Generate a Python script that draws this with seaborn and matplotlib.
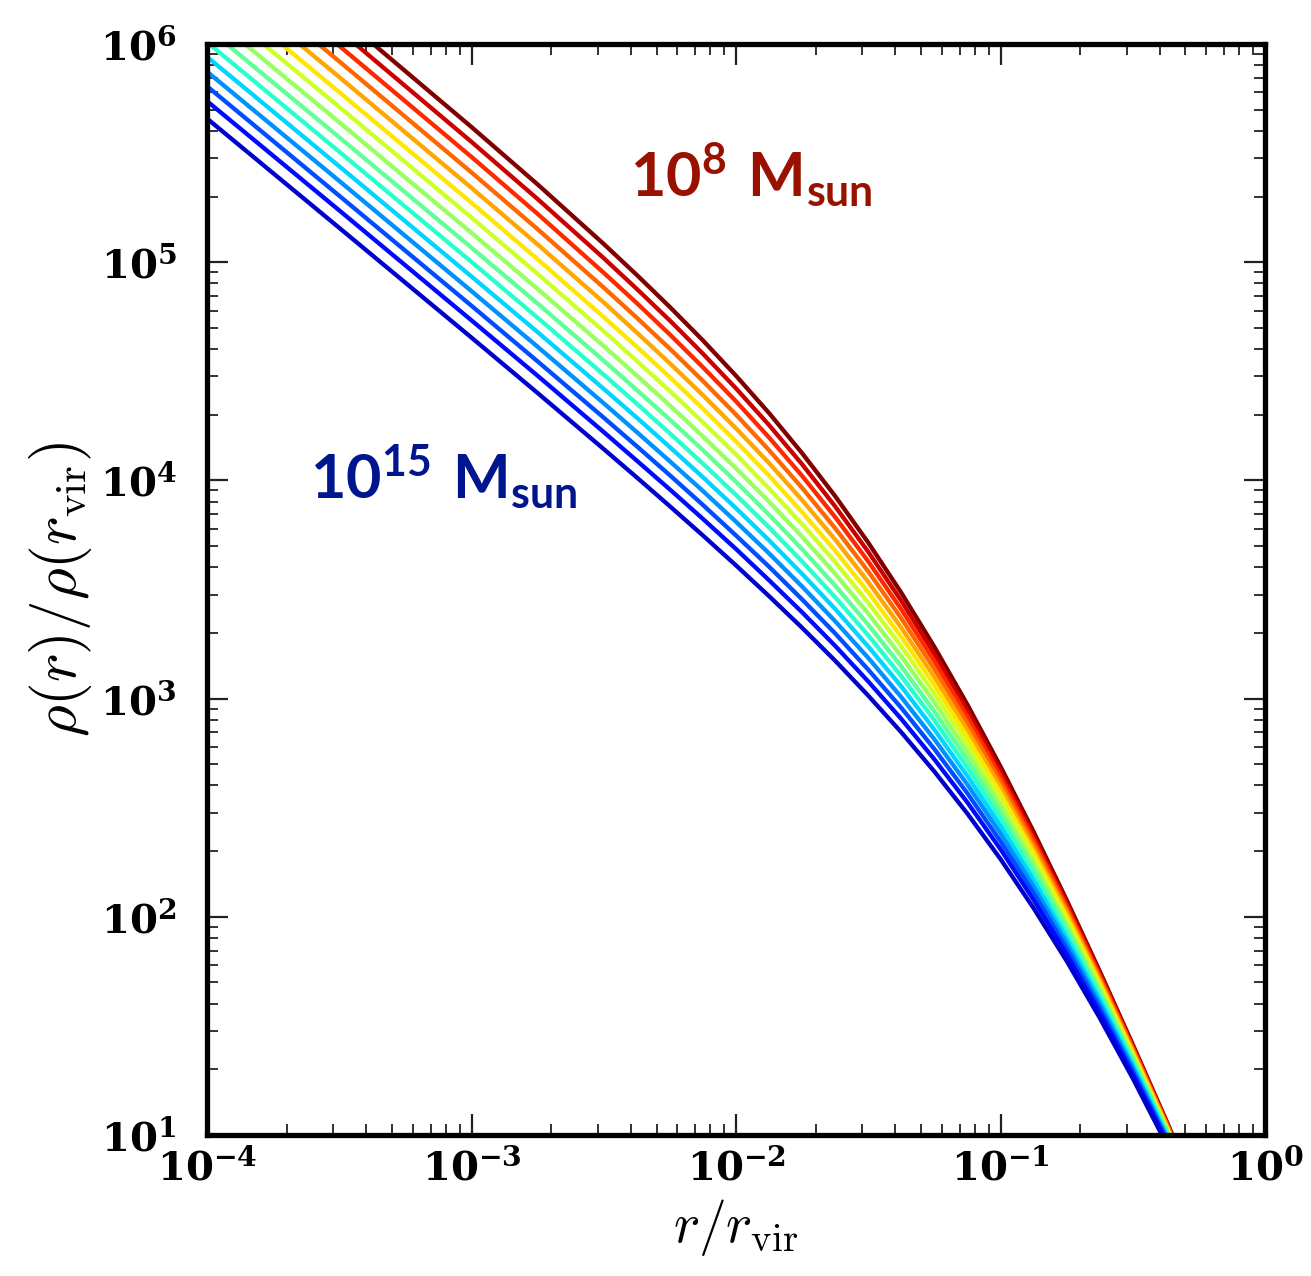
import numpy as np
import pandas as pd
import seaborn as sns
import matplotlib.pyplot as plt
from matplotlib.ticker import LogLocator, NullFormatter

# halo masses (log10 Msun), one curve each
log_mass = [8.0, 8.5, 9.0, 9.5, 10.0, 10.5, 11.0, 11.5, 12.0, 12.5, 13.0, 13.5, 14.0, 14.5, 15.0]

# sample radii, log10(r/r_vir)
log_r = [-4.0, -3.5, -3.0, -2.75, -2.5, -2.375, -2.25, -2.125, -2.0, -1.875, -1.75, -1.625,
         -1.5, -1.375, -1.25, -1.125, -1.0, -0.875, -0.75, -0.625, -0.5, -0.375, -0.25]

# log10 rho(r)/rho(r_vir), one row per mass
log_rho = [
    [6.634, 6.131, 5.619, 5.356, 5.083, 4.941, 4.794, 4.641, 4.479, 4.308, 4.124, 3.927,
     3.714, 3.484, 3.236, 2.971, 2.688, 2.389, 2.076, 1.750, 1.414, 1.070, 0.718],
    [6.565, 6.062, 5.551, 5.289, 5.018, 4.877, 4.732, 4.580, 4.421, 4.253, 4.073, 3.880,
     3.672, 3.447, 3.204, 2.944, 2.666, 2.372, 2.063, 1.740, 1.407, 1.065, 0.715],
    [6.494, 5.991, 5.482, 5.221, 4.951, 4.812, 4.668, 4.518, 4.362, 4.196, 4.020, 3.831,
     3.628, 3.408, 3.171, 2.916, 2.643, 2.353, 2.048, 1.730, 1.400, 1.060, 0.713],
    [6.423, 5.920, 5.411, 5.151, 4.883, 4.745, 4.603, 4.455, 4.301, 4.138, 3.965, 3.780,
     3.582, 3.367, 3.135, 2.886, 2.618, 2.334, 2.033, 1.719, 1.392, 1.055, 0.709],
    [6.351, 5.848, 5.340, 5.081, 4.815, 4.677, 4.536, 4.390, 4.238, 4.079, 3.909, 3.728,
     3.534, 3.324, 3.098, 2.854, 2.592, 2.312, 2.017, 1.706, 1.383, 1.049, 0.706],
    [6.282, 5.779, 5.272, 5.013, 4.748, 4.612, 4.472, 4.328, 4.178, 4.021, 3.854, 3.677,
     3.487, 3.282, 3.061, 2.822, 2.565, 2.291, 2.000, 1.694, 1.374, 1.043, 0.703],
    [6.213, 5.711, 5.204, 4.946, 4.683, 4.547, 4.409, 4.266, 4.118, 3.962, 3.799, 3.625,
     3.439, 3.239, 3.022, 2.789, 2.538, 2.268, 1.982, 1.680, 1.364, 1.037, 0.699],
    [6.143, 5.641, 5.134, 4.877, 4.615, 4.480, 4.343, 4.201, 4.055, 3.902, 3.741, 3.571,
     3.389, 3.193, 2.982, 2.753, 2.508, 2.244, 1.963, 1.666, 1.354, 1.030, 0.695],
    [6.074, 5.572, 5.066, 4.810, 4.548, 4.414, 4.278, 4.138, 3.993, 3.842, 3.684, 3.517,
     3.338, 3.147, 2.940, 2.718, 2.477, 2.219, 1.943, 1.650, 1.343, 1.022, 0.690],
    [6.008, 5.506, 5.001, 4.745, 4.484, 4.351, 4.215, 4.076, 3.933, 3.784, 3.628, 3.464,
     3.289, 3.102, 2.900, 2.682, 2.447, 2.193, 1.923, 1.635, 1.332, 1.014, 0.686],
    [5.941, 5.439, 4.934, 4.679, 4.419, 4.287, 4.152, 4.014, 3.872, 3.725, 3.571, 3.410,
     3.238, 3.055, 2.857, 2.644, 2.414, 2.167, 1.901, 1.618, 1.319, 1.006, 0.681],
    [5.873, 5.372, 4.867, 4.612, 4.353, 4.221, 4.087, 3.951, 3.810, 3.665, 3.513, 3.354,
     3.186, 3.006, 2.813, 2.605, 2.381, 2.138, 1.878, 1.600, 1.306, 0.997, 0.675],
    [5.806, 5.304, 4.800, 4.545, 4.287, 4.156, 4.023, 3.887, 3.747, 3.604, 3.454, 3.298,
     3.132, 2.957, 2.768, 2.565, 2.345, 2.109, 1.854, 1.581, 1.292, 0.988, 0.669],
    [5.738, 5.237, 4.733, 4.479, 4.221, 4.090, 3.958, 3.823, 3.685, 3.542, 3.395, 3.241,
     3.078, 2.906, 2.721, 2.523, 2.309, 2.077, 1.828, 1.561, 1.277, 0.977, 0.663],
    [5.658, 5.157, 4.654, 4.400, 4.143, 4.013, 3.881, 3.747, 3.610, 3.469, 3.324, 3.173,
     3.013, 2.845, 2.665, 2.472, 2.264, 2.039, 1.797, 1.536, 1.259, 0.964, 0.655],
]

xticks = [1e-4, 1e-3, 1e-2, 1e-1, 1]
xlabels = [r"$\mathbf{10^{-4}}$", r"$\mathbf{10^{-3}}$", r"$\mathbf{10^{-2}}$",
           r"$\mathbf{10^{-1}}$", r"$\mathbf{10^{0}}$"]
yticks = [1e1, 1e2, 1e3, 1e4, 1e5, 1e6]
ylabels = [r"$\mathbf{10^{1}}$", r"$\mathbf{10^{2}}$", r"$\mathbf{10^{3}}$",
           r"$\mathbf{10^{4}}$", r"$\mathbf{10^{5}}$", r"$\mathbf{10^{6}}$"]

rows = []
for m, vals in zip(log_mass, log_rho):
    pairs = list(zip(log_r, vals))
    rows.append(pd.DataFrame({"r": [10 ** p[0] for p in pairs],
                              "rho": [10 ** p[1] for p in pairs],
                              "mass": m}))
df = pd.concat(rows, ignore_index=True)

sns.set_style("ticks")
plt.rcParams["text.color"] = "black"
plt.rcParams["axes.labelcolor"] = "black"
plt.rcParams["xtick.color"] = "#222222"
plt.rcParams["ytick.color"] = "#222222"
plt.rcParams["xtick.labelcolor"] = "black"
plt.rcParams["ytick.labelcolor"] = "black"
plt.rcParams["mathtext.fontset"] = "dejavuserif"
plt.rcParams["mathtext.rm"] = "Lato:bold"
plt.rcParams["mathtext.bf"] = "Lato:bold"

jet = plt.get_cmap("jet")
colors = [jet(1 - i / len(log_mass)) for i in range(len(log_mass))]

fig = plt.figure(figsize=(13.11, 12.76), dpi=100)
ax = fig.add_axes([0.158, 0.1105, 0.807, 0.855])
sns.lineplot(data=df, x="r", y="rho", hue="mass", palette=colors, lw=3.1,
             estimator=None, legend=False, ax=ax, solid_joinstyle="round")
ax.set_xscale("log")
ax.set_yscale("log")
ax.set_xlim(1e-4, 1)
ax.set_ylim(10, 1e6)

ax.set_xticks(xticks, xlabels, fontsize=29, math_fontfamily="dejavuserif")
ax.set_yticks(yticks, ylabels, fontsize=29, math_fontfamily="dejavuserif")
ax.xaxis.set_minor_locator(LogLocator(subs=np.arange(2, 10)))
ax.yaxis.set_minor_locator(LogLocator(subs=np.arange(2, 10)))
ax.xaxis.set_minor_formatter(NullFormatter())
ax.yaxis.set_minor_formatter(NullFormatter())
ax.tick_params(which="both", direction="in", top=True, right=True)
ax.tick_params(which="major", length=15, width=1.6)
ax.tick_params(which="minor", length=8, width=1.3)
ax.tick_params(axis="x", pad=10)
ax.tick_params(axis="y", pad=22)
for s in ax.spines.values():
    s.set_linewidth(3.8)
    s.set_color("black")

ax.set_xlabel(r"$r/r_{\rm vir}$", fontsize=40, math_fontfamily="cm", labelpad=6)
ax.set_ylabel(r"$\rho(r)/\rho(r_{\rm vir})$", fontsize=44, math_fontfamily="cm", labelpad=4)

ax.text(10 ** -2.401, 10 ** 5.299, r"$\mathrm{10^{8}\ M_{sun}}$", color="#991200",
        fontsize=44, math_fontfamily="custom", ha="left", va="baseline")
ax.text(10 ** -3.611, 10 ** 3.915, r"$\mathrm{10^{15}\ M_{sun}}$", color="#00168F",
        fontsize=44, math_fontfamily="custom", ha="left", va="baseline")

fig.savefig("out.png", dpi=100)
